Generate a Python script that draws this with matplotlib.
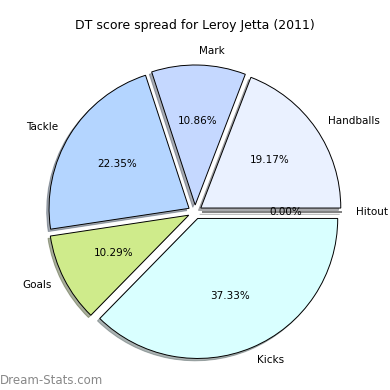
import matplotlib
matplotlib.use("Agg")
import matplotlib.pyplot as plt

labels = ["Hitout", "Handballs", "Mark", "Tackle", "Goals", "Kicks"]
values = [0.00, 19.17, 10.86, 22.35, 10.29, 37.33]
colors = ["#ffffff", "#eaf1ff", "#c5d8ff", "#b4d5ff", "#cfeb8b", "#d9ffff"]
explode = [0.05] * len(values)

fig = plt.figure(figsize=(3.9, 3.9), dpi=100)
ax = fig.add_axes([20/390, 3/390, 350/390, 350/390])
wedges, texts, autotexts = ax.pie(values, labels=labels, colors=colors, explode=explode,
                                  autopct="%1.2f%%",
                                  shadow=dict(ox=-0.012, oy=-0.012, shade=0.6),
                                  startangle=0,
                                  wedgeprops=dict(edgecolor="black", linewidth=0.7),
                                  textprops=dict(fontsize=7.5))
ax.set_xlim(-1.25, 1.25)
ax.set_ylim(-1.25, 1.25)
ax.set_aspect("equal")
ax.set_title("DT score spread for Leroy Jetta (2011)", fontsize=9)
fig.text(0.0, 0.008, "Dream-Stats.com", color="#888888", fontsize=8.5, ha="left", va="bottom")
fig.savefig("out.png", dpi=100)
